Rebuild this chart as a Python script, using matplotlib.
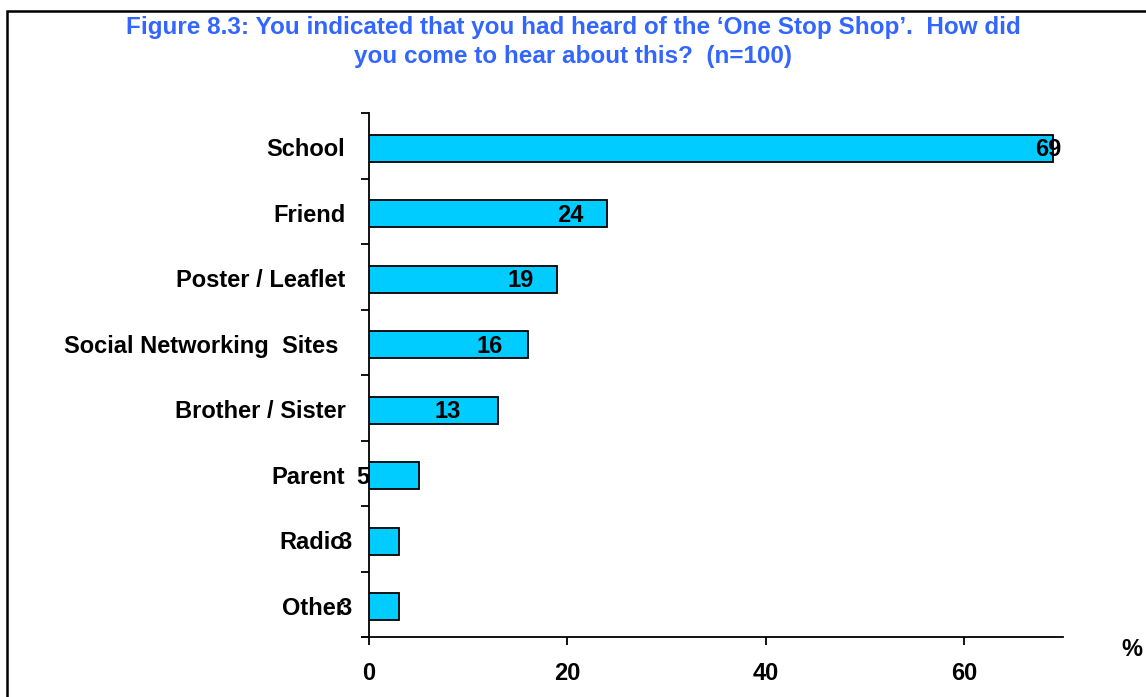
import matplotlib.pyplot as plt
from matplotlib.patches import Rectangle

# data
sources = ["School", "Friend", "Poster / Leaflet", "Social Networking  Sites ",
           "Brother / Sister", "Parent", "Radio", "Other"]
percent = [69, 24, 19, 16, 13, 5, 3, 3]
# how far (px) each data label sits left of its bar end, as in the original
label_nudge = [-5, -37, -37, -38, -50, -56, -54, -54]

title = ("Figure 8.3: You indicated that you had heard of the \u2018One Stop Shop\u2019.  How did\n"
         "you come to hear about this?  (n=100)")

plt.rcParams['font.family'] = ['Liberation Sans', 'DejaVu Sans']
plt.rcParams['font.weight'] = 'bold'

fig = plt.figure(figsize=(11.46, 6.97), dpi=100)
ax = fig.add_axes([369 / 1146, 1 - 637 / 697, (1063 - 369) / 1146, (637 - 113) / 697])

ypos = [i + 0.04 for i in range(len(sources))]
ax.barh(ypos, percent, height=0.41, color='#00CCFF', edgecolor='black', linewidth=1.3)
ax.set_ylim(len(sources) - 0.5, -0.5)
ax.set_xlim(0, 70)

for i, v in enumerate(percent):
    ax.annotate(str(v), (v, ypos[i]), xytext=(label_nudge[i] * 0.72, -1), textcoords='offset points',
                ha='center', va='center', fontsize=17, fontweight='bold')

# y ticks between categories, category names as free text
ax.set_yticks([i - 0.5 for i in range(len(sources) + 1)])
ax.set_yticklabels([])
ax.tick_params(axis='y', direction='out', length=6, width=1.3)
for i, s in enumerate(sources):
    ax.annotate(s, (0, ypos[i]), xytext=(-17, -1), textcoords='offset points',
                ha='right', va='center', fontsize=17, fontweight='bold',
                annotation_clip=False)

ax.set_xticks([0, 20, 40, 60])
ax.tick_params(axis='x', direction='out', length=6, width=1.3, pad=12, labelsize=17)
for lab in ax.get_xticklabels():
    lab.set_fontweight('bold')

ax.spines['top'].set_visible(False)
ax.spines['right'].set_visible(False)
ax.spines['left'].set_linewidth(1.3)
ax.spines['bottom'].set_linewidth(1.3)
ax.spines['bottom'].set_bounds(-0.7, 70)

fig.text(1132 / 1146, 1 - 650 / 697, "%", ha='center', va='center', fontsize=17, fontweight='bold')
fig.text(573 / 1146, 1 - 42 / 697, title, ha='center', va='center', fontsize=17.5,
         fontweight='bold', color='#3366FF', linespacing=1.3)

# frame around the chart area
fig.patches.append(Rectangle((7 / 1146, -0.05), 1.1, 1 - 11 / 697 + 0.05, transform=fig.transFigure,
                             fill=False, edgecolor='black', linewidth=1.8))

fig.savefig("out.png", dpi=100)
